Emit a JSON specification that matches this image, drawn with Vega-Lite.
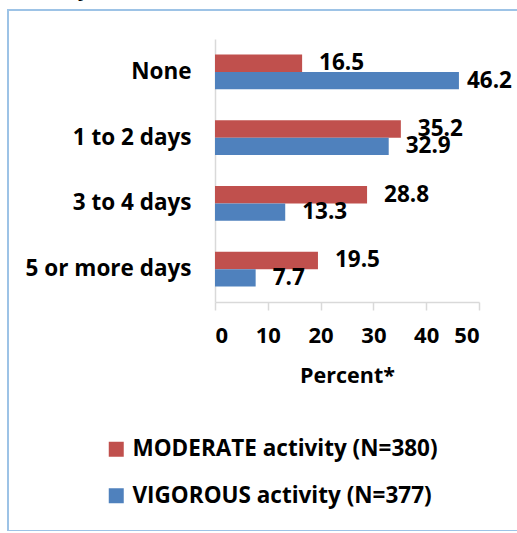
{
  "$schema": "https://vega.github.io/schema/vega-lite/v6.json",
  "width": 520,
  "height": 521,
  "autosize": {"type": "none"},
  "padding": {"left": 8, "top": 10, "right": 0, "bottom": 0},
  "title": {"text": "activity", "anchor": "start", "frame": "group", "offset": 9, "fontSize": 22, "font": "Open Sans", "fontWeight": "bold", "color": "#000000"},
  "config": {
    "view": {"stroke": "#9DC3E6", "strokeWidth": 2},
    "font": "Open Sans"
  },
  "data": {
    "values": [
      {"days": "None", "series": "MODERATE activity (N=380)", "pct": 16.5},
      {"days": "None", "series": "VIGOROUS activity (N=377)", "pct": 46.2},
      {"days": "1 to 2 days", "series": "MODERATE activity (N=380)", "pct": 35.2},
      {"days": "1 to 2 days", "series": "VIGOROUS activity (N=377)", "pct": 32.9},
      {"days": "3 to 4 days", "series": "MODERATE activity (N=380)", "pct": 28.8},
      {"days": "3 to 4 days", "series": "VIGOROUS activity (N=377)", "pct": 13.3},
      {"days": "5 or more days", "series": "MODERATE activity (N=380)", "pct": 19.5},
      {"days": "5 or more days", "series": "VIGOROUS activity (N=377)", "pct": 7.7}
    ]
  },
  "encoding": {
    "y": {
      "field": "days", "type": "nominal",
      "sort": ["None", "1 to 2 days", "3 to 4 days", "5 or more days"],
      "scale": {"range": [29, 292], "paddingInner": 0.47, "paddingOuter": 0.235},
      "axis": {"title": null, "orient": "left", "offset": -207, "ticks": false, "labelPadding": 24,
        "labelFont": "Open Sans", "labelFontSize": 22.5, "labelFontWeight": "bold", "labelColor": "#000000",
        "domainColor": "#D9D9D9", "domainWidth": 1.5}
    },
    "yOffset": {
      "field": "series", "type": "nominal",
      "sort": ["MODERATE activity (N=380)", "VIGOROUS activity (N=377)"],
      "scale": {"paddingInner": 0, "paddingOuter": 0}
    },
    "x": {
      "field": "pct", "type": "quantitative",
      "scale": {"domain": [0, 50], "range": [207, 471], "nice": false},
      "axis": {"title": "Percent*", "orient": "bottom", "offset": -229, "values": [0, 10, 20, 30, 40, 50],
        "grid": false, "tickSize": 8, "tickColor": "#D9D9D9", "tickWidth": 1.5,
        "domainColor": "#D9D9D9", "domainWidth": 1.5, "labelPadding": 15,
        "labelFont": "Open Sans", "labelFontSize": 22, "labelFontWeight": "bold", "labelColor": "#000000",
        "titleFont": "Open Sans", "titleFontSize": 21.5, "titleFontWeight": "bold", "titleColor": "#000000", "titlePadding": 19}
    }
  },
  "layer": [
    {
      "mark": {"type": "bar"},
      "encoding": {
        "color": {
          "field": "series", "type": "nominal",
          "sort": ["MODERATE activity (N=380)", "VIGOROUS activity (N=377)"],
          "scale": {"range": ["#C0504D", "#4F81BD"]},
          "legend": {"title": null, "orient": "none", "legendX": 97, "legendY": 428,
            "symbolType": "square", "symbolSize": 225, "symbolStrokeWidth": 0, "symbolOpacity": 1,
            "labelFont": "Open Sans", "labelFontSize": 22.5, "labelFontWeight": "bold", "labelColor": "#000000",
            "labelOffset": 5, "rowPadding": 23.5, "labelLimit": 400}
        }
      }
    },
    {
      "transform": [{"filter": "datum.pct < 40"}],
      "mark": {"type": "text", "align": "left", "baseline": "middle", "dx": 17, "fontSize": 22.5, "fontWeight": "bold", "font": "Open Sans", "color": "#000000"},
      "encoding": {"text": {"field": "pct", "type": "quantitative", "format": ".1f"}}
    },
    {
      "transform": [{"filter": "datum.pct >= 40"}],
      "mark": {"type": "text", "align": "left", "baseline": "middle", "dx": 8, "fontSize": 22.5, "fontWeight": "bold", "font": "Open Sans", "color": "#000000"},
      "encoding": {"text": {"field": "pct", "type": "quantitative", "format": ".1f"}}
    }
  ]
}
